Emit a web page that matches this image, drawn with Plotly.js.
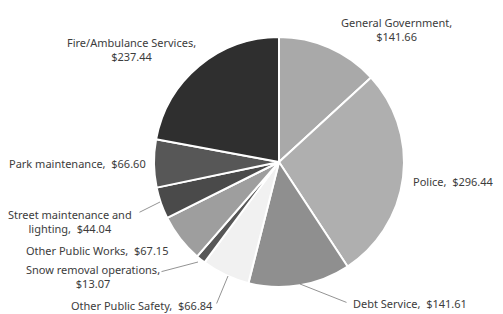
<!DOCTYPE html>
<html><head><meta charset="utf-8">
<script src="https://cdn.plot.ly/plotly-3.0.1.min.js"></script>
<style>html,body{margin:0;padding:0;background:#fff}#c{width:503px;height:314px}</style>
</head><body><div id="c"></div>
<script>
const categories = ["General Government","Police","Debt Service","Other Public Safety","Snow removal operations","Other Public Works","Street maintenance and lighting","Park maintenance","Fire/Ambulance Services"];
const values = [141.66,296.44,141.61,66.84,13.07,67.15,44.04,66.60,237.44];
const colors = ["#a9a9a9","#afafaf","#8f8f8f","#f1f1f1","#575757","#9e9e9e","#4a4a4a","#575757","#2f2f2f"];
const labelText = ["General Government,<br>$141.66","Police,  $296.44","Debt Service,  $141.61","Other Public Safety,  $66.84","Snow removal operations,<br>$13.07","Other Public Works,  $67.15","Street maintenance and<br>lighting,  $44.04","Park maintenance,  $66.60","Fire/Ambulance Services,<br>$237.44"];

const W=503,H=314;
const px = x => x/W, py = y => 1 - y/H;
const labelPos = [[396,30],[453,181],[410,303],[142,305],[93,276],[97,250],[70,221],[77,163],[131,50]];
const font = {family:"Noto Sans, sans-serif", size:11, color:"#3c3c3c"};
const annotations = categories.map((c,i)=>({
  xref:"paper", yref:"paper", x:px(labelPos[i][0]), y:py(labelPos[i][1]),
  text: labelText[i], showarrow:false, font:font, align:"center",
  xanchor:"center", yanchor:"middle"
}));
// leader lines
const leaders = [[138,213,160,202],[160,272,198,262],[216,305,228,276],[348,303,300,284]];
leaders.forEach(l=>annotations.push({
  xref:"paper", yref:"paper", x:px(l[2]), y:py(l[3]), axref:"pixel", ayref:"pixel",
  ax:l[0]-l[2], ay:l[1]-l[3], text:"", showarrow:true, arrowhead:0, arrowwidth:0.8,
  arrowcolor:"#777", standoff:0, startstandoff:0
}));

const cx=279, cy=162, r=125;
Plotly.newPlot("c",[{
  type:"pie", labels:categories, values:values, sort:false, direction:"clockwise", rotation:0,
  marker:{colors:colors, line:{color:"#ffffff", width:2}},
  textinfo:"none", hoverinfo:"label+value",
  domain:{x:[(cx-r)/W,(cx+r)/W], y:[(H-cy-r)/H,(H-cy+r)/H]}
}],{
  width:W, height:H, margin:{l:0,r:0,t:0,b:0}, showlegend:false,
  paper_bgcolor:"#ffffff", annotations:annotations
},{displayModeBar:false, staticPlot:true});
</script></body></html>
